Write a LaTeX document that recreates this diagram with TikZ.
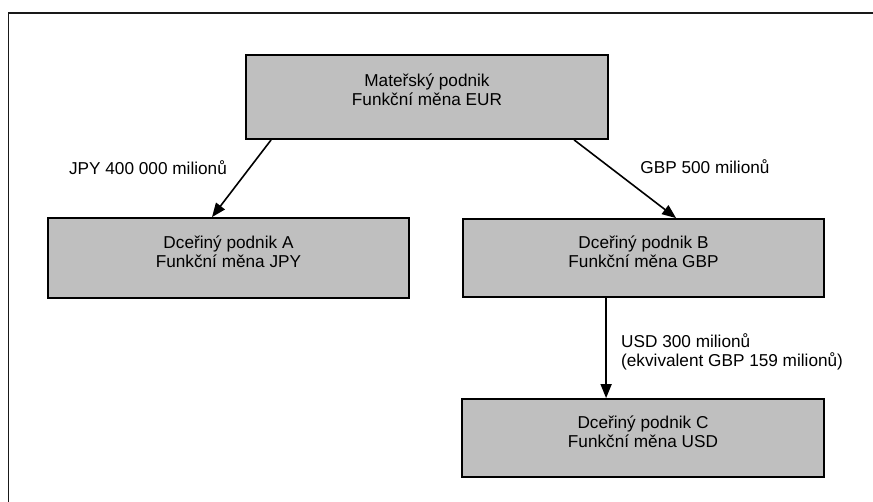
\documentclass[tikz,border=0pt]{standalone}
\usepackage{fontspec}
\setmainfont{Liberation Sans}
\usetikzlibrary{arrows.meta}
\tikzset{
  box/.style={draw=black, line width=1.8pt, fill=black!25, inner sep=0pt},
  boxtext/.style={align=center, font=\fontsize{17.2}{19}\selectfont, inner sep=0pt},
  lbl/.style={font=\fontsize{17.2}{19}\selectfont, inner sep=0pt},
  conn/.style={line width=1.6pt, -{Triangle[length=14pt,width=11pt]}},
  frame/.style={line width=1.6pt, draw=black!90}
}
\begin{document}
\begin{tikzpicture}[x=1pt,y=-1pt]
\useasboundingbox (0,0) rectangle (873,502);
\coordinate (fb) at (8.5,502);
\coordinate (fc) at (8.5,13);
\coordinate (fr) at (873,13);
\draw[frame] (fb) -- (fc) -- (fr);

\node[box, minimum width=362pt, minimum height=84pt] (P) at (427,97) {};
\node[boxtext] (Pt) at ([yshift=7pt]P.center) {Mateřský podnik\\Funkční měna EUR};

\node[box, minimum width=361pt, minimum height=80pt] (A) at (228.5,258) {};
\node[boxtext] (At) at ([yshift=6pt]A.center) {Dceřiný podnik A\\Funkční měna JPY};

\node[box, minimum width=361pt, minimum height=78pt] (B) at (643.5,258) {};
\node[boxtext] (Bt) at ([yshift=6pt]B.center) {Dceřiný podnik B\\Funkční měna GBP};

\node[box, minimum width=362pt, minimum height=78pt] (C) at (643,438) {};
\node[boxtext] (Ct) at ([yshift=6pt]C.center) {Dceřiný podnik C\\Funkční měna USD};

\draw[conn] ([xshift=26pt]P.south west) -- ([xshift=-16.5pt]A.north);
\draw[conn] ([xshift=329pt]P.south west) -- ([xshift=214pt]B.north west);
\draw[conn] ([xshift=144pt]B.south west) -- ([xshift=145pt]C.north west);

\node[lbl] (l1) at (148,168) {JPY 400 000 milionů};
\node[lbl] (l2) at (705,167) {GBP 500 milionů};
\node[lbl, anchor=west, align=left] (l3) at (621,351.5) {USD 300 milionů\\(ekvivalent GBP 159 milionů)};
\end{tikzpicture}
\end{document}
